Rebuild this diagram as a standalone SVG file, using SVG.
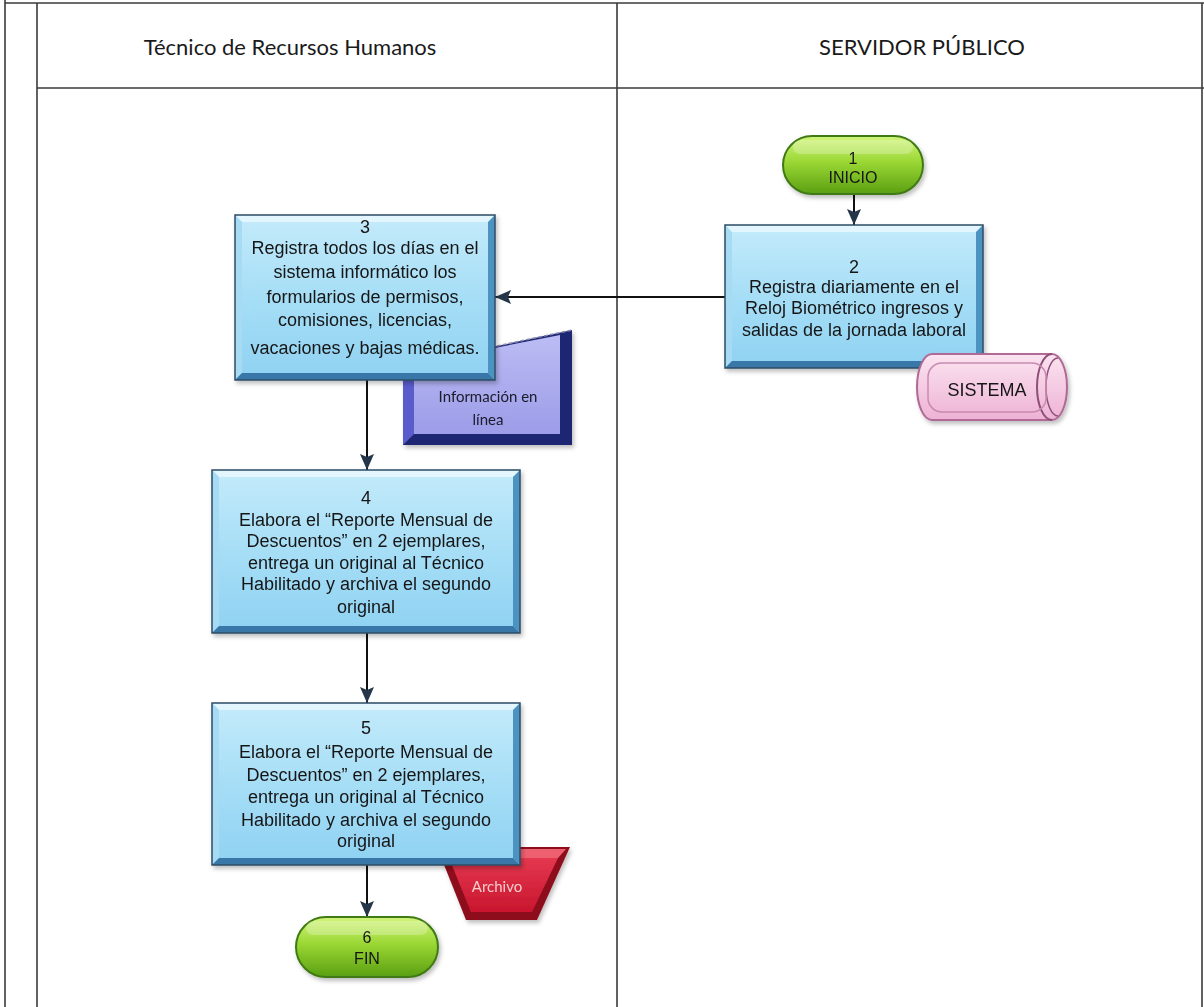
<svg xmlns="http://www.w3.org/2000/svg" width="1204" height="1007" viewBox="0 0 1204 1007">
  <style>
    .grid { stroke: #3a3a3a; stroke-width: 1.6; fill: none; }
    .head { font-family: Lato, "Open Sans", sans-serif; font-size: 22px; fill: #1a1a1a; text-anchor: middle; }
    .txt { font-family: "Liberation Sans", Arial, sans-serif; font-size: 18px; fill: #161616; text-anchor: middle; }
    .term { font-family: "Liberation Sans", Arial, sans-serif; font-size: 16px; fill: #161616; text-anchor: middle; }
    .lbl { font-family: Lato, "Open Sans", sans-serif; font-size: 15px; text-anchor: middle; }
    .conn { stroke: #111; stroke-width: 2; fill: none; marker-end: url(#arrow); }
    .bv-top { fill: #e4f6fd; }
    .bv-left { fill: #a6dbf3; }
    .bv-right { fill: #4d93c2; }
    .bv-bot { fill: #3877a8; }
    .bx-in { fill: url(#boxFill); }
    .bx-out { fill: none; stroke: #2b4c66; stroke-width: 1.5; }
  </style>
  <defs>
    <linearGradient id="boxFill" x1="0" y1="0" x2="0" y2="1">
      <stop offset="0" stop-color="#c4ebfb"/>
      <stop offset="0.5" stop-color="#a6def6"/>
      <stop offset="1" stop-color="#8fd2f2"/>
    </linearGradient>
    <linearGradient id="greenFill" x1="0" y1="0" x2="0" y2="1">
      <stop offset="0" stop-color="#d2f57a"/>
      <stop offset="0.45" stop-color="#9ad734"/>
      <stop offset="1" stop-color="#5a9f12"/>
    </linearGradient>
    <linearGradient id="pinkFill" x1="0" y1="0" x2="0" y2="1">
      <stop offset="0" stop-color="#fbe4f1"/>
      <stop offset="1" stop-color="#eeb2d4"/>
    </linearGradient>
    <linearGradient id="lavFill" x1="0" y1="0" x2="0" y2="1">
      <stop offset="0" stop-color="#bcbcf5"/>
      <stop offset="1" stop-color="#9c9ce8"/>
    </linearGradient>
    <linearGradient id="redFill" x1="0" y1="0" x2="0" y2="1">
      <stop offset="0" stop-color="#e4374f"/>
      <stop offset="1" stop-color="#c8162e"/>
    </linearGradient>
    <filter id="shadow" x="-10%" y="-10%" width="130%" height="130%">
      <feDropShadow dx="2" dy="3" stdDeviation="2" flood-color="#000" flood-opacity="0.25"/>
    </filter>
    <marker id="arrow" viewBox="0 0 16 14" refX="16" refY="7" markerWidth="16" markerHeight="14" markerUnits="userSpaceOnUse" orient="auto">
      <path d="M0,0 L16,7 L0,14 L3,7 Z" fill="#26364a"/>
    </marker>
  </defs>

  <rect width="1204" height="1007" fill="#ffffff"/>

  <!-- table grid -->
  <g id="grid">
    <line class="grid" x1="5" y1="3" x2="1204" y2="3" stroke-width="2"/>
    <line class="grid" x1="5" y1="0" x2="5" y2="1007" stroke="#777"/>
    <line class="grid" x1="37" y1="3" x2="37" y2="1007" stroke="#777"/>
    <line class="grid" x1="37" y1="88" x2="1204" y2="88" stroke="#555" stroke-width="2"/>
    <line class="grid" x1="617" y1="3" x2="617" y2="1007"/>
    <line class="grid" x1="1202" y1="3" x2="1202" y2="1007" stroke="#ccc" stroke-width="1"/>
  </g>

  <!-- lane headers -->
  <g id="headers">
    <text class="head" x="290" y="55">Técnico de Recursos Humanos</text>
    <text class="head" x="922" y="55">SERVIDOR PÚBLICO</text>
  </g>

  <!-- connectors -->
  <g id="connectors">
    <line class="conn" x1="854" y1="195" x2="854" y2="225"/>
    <line class="conn" x1="725" y1="297" x2="495" y2="297"/>
    <line class="conn" x1="367" y1="380" x2="367" y2="470"/>
    <line class="conn" x1="367" y1="633" x2="367" y2="703"/>
    <line class="conn" x1="367" y1="865" x2="367" y2="917"/>
  </g>

  <!-- 1 INICIO -->
  <g id="n1" filter="url(#shadow)">
    <rect x="783" y="136" width="140" height="58" rx="29" fill="url(#greenFill)" stroke="#3f7a12" stroke-width="2"/>
    <rect x="793" y="140" width="120" height="14" rx="7" fill="#ffffff" opacity="0.25"/>
    <text class="term" x="853" y="164">1</text>
    <text class="term" x="853" y="183">INICIO</text>
  </g>

  <!-- 2 -->
  <g id="n2" filter="url(#shadow)">
    <rect class="bx-in" x="725" y="225" width="258" height="143"/>
    <polygon class="bv-top" points="725,225 983,225 976,232 732,232"/>
    <polygon class="bv-left" points="725,225 732,232 732,361 725,368"/>
    <polygon class="bv-right" points="983,225 976,232 976,361 983,368"/>
    <polygon class="bv-bot" points="725,368 983,368 976,361 732,361"/>
    <rect class="bx-out" x="725" y="225" width="258" height="143"/>
    <text class="txt" x="854" y="273">2</text>
    <text class="txt" x="854" y="293">Registra diariamente en el</text>
    <text class="txt" x="854" y="314">Reloj Biométrico ingresos y</text>
    <text class="txt" x="854" y="336">salidas de la jornada laboral</text>
  </g>

  <!-- SISTEMA storage -->
  <g id="sistema" filter="url(#shadow)">
    <path d="M932,354 L1052,354 A15,33 0 0 1 1052,420 L932,420 A15,33 0 0 1 932,354 Z" fill="url(#pinkFill)" stroke="#b06a95" stroke-width="2"/>
    <path d="M1052,354 A15,33 0 0 0 1052,420" fill="none" stroke="#8e4f78" stroke-width="2"/>
    <path d="M1058,358 A12,29 0 0 0 1058,416" fill="none" stroke="#8e4f78" stroke-width="1.5"/>
    <rect x="928" y="363" width="118" height="49" rx="14" fill="none" stroke="#c98ab0" stroke-width="1.5"/>
    <text class="txt" x="987" y="396" font-size="17">SISTEMA</text>
  </g>

  <!-- Información en línea (manual input) -->
  <g id="info" filter="url(#shadow)">
    <polygon points="403,366 572,330 572,445 403,445" fill="#1e2873"/>
    <polygon points="403,366 414,364 414,434 403,445" fill="#5a5ccc"/>
    <polygon points="414,364 560,335 560,434 414,434" fill="url(#lavFill)"/>
    <line x1="403" y1="366" x2="572" y2="330" stroke="#8a8ab0" stroke-width="1.5" stroke-dasharray="4,2"/>
    <text class="lbl" x="488" y="402" fill="#1a1a2a">Información en</text>
    <text class="lbl" x="488" y="425" fill="#1a1a2a">línea</text>
  </g>

  <!-- 3 -->
  <g id="n3" filter="url(#shadow)">
    <rect class="bx-in" x="235" y="215" width="260" height="165"/>
    <polygon class="bv-top" points="235,215 495,215 488,222 242,222"/>
    <polygon class="bv-left" points="235,215 242,222 242,373 235,380"/>
    <polygon class="bv-right" points="495,215 488,222 488,373 495,380"/>
    <polygon class="bv-bot" points="235,380 495,380 488,373 242,373"/>
    <rect class="bx-out" x="235" y="215" width="260" height="165"/>
    <text class="txt" x="365" y="233">3</text>
    <text class="txt" x="365" y="254">Registra todos los días en el</text>
    <text class="txt" x="365" y="278">sistema informático los</text>
    <text class="txt" x="365" y="303">formularios de permisos,</text>
    <text class="txt" x="365" y="326">comisiones, licencias,</text>
    <text class="txt" x="365" y="354">vacaciones y bajas médicas.</text>
  </g>

  <!-- 4 -->
  <g id="n4" filter="url(#shadow)">
    <rect class="bx-in" x="212" y="470" width="308" height="163"/>
    <polygon class="bv-top" points="212,470 520,470 513,477 219,477"/>
    <polygon class="bv-left" points="212,470 219,477 219,626 212,633"/>
    <polygon class="bv-right" points="520,470 513,477 513,626 520,633"/>
    <polygon class="bv-bot" points="212,633 520,633 513,626 219,626"/>
    <rect class="bx-out" x="212" y="470" width="308" height="163"/>
    <text class="txt" x="366" y="504">4</text>
    <text class="txt" x="366" y="526">Elabora el “Reporte Mensual de</text>
    <text class="txt" x="366" y="547">Descuentos” en 2 ejemplares,</text>
    <text class="txt" x="366" y="569">entrega un original al Técnico</text>
    <text class="txt" x="366" y="590">Habilitado y archiva el segundo</text>
    <text class="txt" x="366" y="613">original</text>
  </g>

  <!-- Archivo -->
  <g id="archivo" filter="url(#shadow)">
    <polygon points="437,847 570,847 537,920 466,920" fill="#8e0e1e"/>
    <polygon points="441,849 566,849 558,858 449,858" fill="#ee6070"/>
    <polygon points="449,858 558,858 532,912 471,912" fill="url(#redFill)"/>
    <text class="lbl" x="497" y="892" font-size="14" fill="#f6cccc">Archivo</text>
  </g>

  <!-- 5 -->
  <g id="n5" filter="url(#shadow)">
    <rect class="bx-in" x="212" y="703" width="308" height="162"/>
    <polygon class="bv-top" points="212,703 520,703 513,710 219,710"/>
    <polygon class="bv-left" points="212,703 219,710 219,858 212,865"/>
    <polygon class="bv-right" points="520,703 513,710 513,858 520,865"/>
    <polygon class="bv-bot" points="212,865 520,865 513,858 219,858"/>
    <rect class="bx-out" x="212" y="703" width="308" height="162"/>
    <text class="txt" x="366" y="734">5</text>
    <text class="txt" x="366" y="758">Elabora el “Reporte Mensual de</text>
    <text class="txt" x="366" y="781">Descuentos” en 2 ejemplares,</text>
    <text class="txt" x="366" y="803">entrega un original al Técnico</text>
    <text class="txt" x="366" y="826">Habilitado y archiva el segundo</text>
    <text class="txt" x="366" y="847">original</text>
  </g>

  <!-- 6 FIN -->
  <g id="n6" filter="url(#shadow)">
    <rect x="296" y="917" width="142" height="60" rx="30" fill="url(#greenFill)" stroke="#3f7a12" stroke-width="2"/>
    <rect x="306" y="921" width="122" height="14" rx="7" fill="#ffffff" opacity="0.25"/>
    <text class="term" x="367" y="943">6</text>
    <text class="term" x="367" y="964">FIN</text>
  </g>
</svg>
